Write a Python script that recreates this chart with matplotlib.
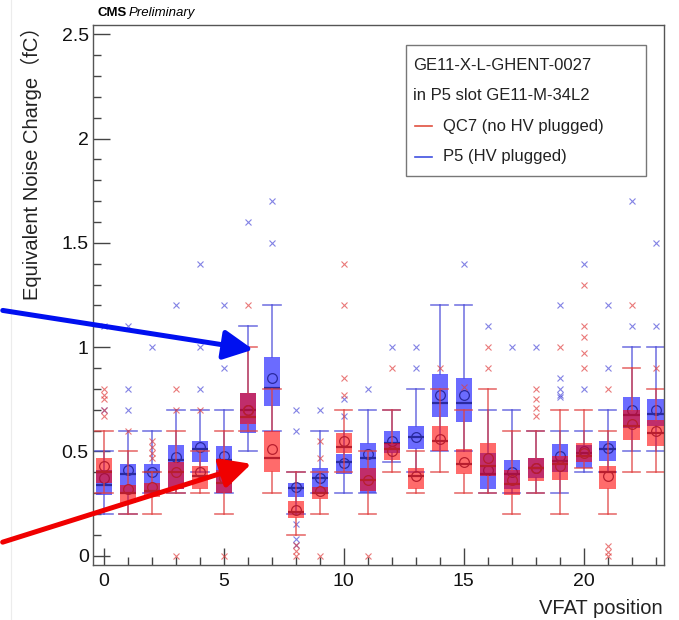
import matplotlib
matplotlib.use("Agg")
import matplotlib.pyplot as plt
from matplotlib.patches import Rectangle, FancyArrowPatch
from matplotlib.lines import Line2D
from matplotlib.ticker import MultipleLocator

W, H = 679, 620

# VFAT positions
vfat = list(range(24))

# QC7 (no HV plugged) - red
qc7_lo   = [0.30, 0.20, 0.20, 0.30, 0.30, 0.20, 0.60, 0.30, 0.10, 0.20, 0.40, 0.20,
            0.40, 0.30, 0.40, 0.30, 0.30, 0.20, 0.30, 0.20, 0.42, 0.20, 0.40, 0.40]
qc7_q1   = [0.35, 0.25, 0.28, 0.32, 0.32, 0.30, 0.63, 0.40, 0.18, 0.27, 0.49, 0.31,
            0.46, 0.32, 0.50, 0.39, 0.38, 0.29, 0.36, 0.365, 0.45, 0.32, 0.556, 0.525]
qc7_med  = [0.40, 0.30, 0.31, 0.40, 0.38, 0.35, 0.665, 0.47, 0.21, 0.30, 0.52, 0.365,
            0.51, 0.38, 0.55, 0.44, 0.43, 0.345, 0.42, 0.44, 0.48, 0.40, 0.62, 0.59]
qc7_q3   = [0.47, 0.34, 0.35, 0.45, 0.43, 0.41, 0.78, 0.60, 0.26, 0.33, 0.59, 0.42,
            0.54, 0.42, 0.62, 0.51, 0.54, 0.41, 0.47, 0.48, 0.54, 0.43, 0.70, 0.65]
qc7_hi   = [0.60, 0.50, 0.40, 0.60, 0.50, 0.60, 1.00, 0.80, 0.40, 0.40, 0.70, 0.50,
            0.70, 0.50, 0.80, 0.70, 0.80, 0.60, 0.60, 0.70, 0.70, 0.60, 0.90, 0.80]
qc7_mean = [0.43, 0.32, 0.33, 0.40, 0.40, 0.37, 0.70, 0.51, 0.22, 0.31, 0.55, 0.365,
            0.50, 0.38, 0.56, 0.45, 0.47, 0.365, 0.42, 0.43, 0.49, 0.38, 0.63, 0.60]
qc7_out  = [[0.8, 0.77, 0.75, 0.7, 0.67], [0.6], [0.55, 0.52, 0.49, 0.47], [0.8, 0.7, 0.0],
            [0.7], [0.0], [1.2], [], [0.05, 0.02, 0.0], [0.55, 0.47, 0.0],
            [1.4, 1.2, 0.85, 0.77], [0.0], [0.9], [], [0.9], [0.81], [1.0, 0.9], [],
            [0.8, 0.75, 0.71, 0.67], [1.0], [1.3, 1.1, 1.05, 0.97, 0.9],
            [0.8, 0.045, 0.015, 0.0], [1.2], [0.9]]

# P5 (HV plugged) - blue
p5_lo   = [0.20, 0.20, 0.30, 0.30, 0.40, 0.30, 0.50, 0.60, 0.20, 0.30, 0.30, 0.30,
           0.45, 0.40, 0.50, 0.50, 0.30, 0.30, 0.30, 0.30, 0.40, 0.40, 0.50, 0.50]
p5_q1   = [0.29, 0.30, 0.30, 0.32, 0.45, 0.30, 0.59, 0.72, 0.28, 0.30, 0.39, 0.30,
           0.49, 0.51, 0.665, 0.64, 0.32, 0.32, 0.37, 0.40, 0.42, 0.456, 0.61, 0.62]
p5_med  = [0.34, 0.39, 0.40, 0.46, 0.51, 0.46, 0.70, 0.805, 0.325, 0.37, 0.45, 0.47,
           0.54, 0.57, 0.73, 0.73, 0.39, 0.39, 0.42, 0.455, 0.49, 0.51, 0.675, 0.68]
p5_q3   = [0.41, 0.44, 0.44, 0.53, 0.55, 0.525, 0.78, 0.955, 0.35, 0.42, 0.485, 0.54,
           0.60, 0.62, 0.87, 0.85, 0.49, 0.46, 0.47, 0.535, 0.53, 0.55, 0.76, 0.753]
p5_hi   = [0.50, 0.60, 0.60, 0.70, 0.70, 0.70, 1.10, 1.20, 0.40, 0.60, 0.60, 0.70,
           0.70, 0.80, 1.20, 1.20, 0.70, 0.70, 0.60, 0.60, 0.60, 0.70, 1.00, 1.00]
p5_mean = [0.37, 0.41, 0.40, 0.475, 0.52, 0.48, 0.70, 0.85, 0.33, 0.37, 0.445, 0.485,
           0.55, 0.57, 0.77, 0.77, 0.41, 0.40, 0.42, 0.48, 0.50, 0.517, 0.70, 0.70]
p5_out  = [[1.1, 0.7], [1.1, 0.8, 0.7], [1.0], [1.2], [1.4, 1.0, 0.8], [1.2, 0.9], [1.6],
           [1.7, 1.5], [0.7, 0.6, 0.15, 0.08, 0.05], [0.7], [0.75, 0.67], [0.8], [1.0],
           [1.0, 0.9], [], [1.4], [1.1], [1.0], [1.0], [1.2, 0.85, 0.8, 0.77, 0.76],
           [1.4, 0.8], [1.2, 0.9], [1.7, 1.1], [1.5, 1.1]]


def make_stats(lo, q1, med, q3, hi, mean, out):
    return [dict(whislo=a, q1=b, med=c, q3=d, whishi=e, mean=f, fliers=g)
            for a, b, c, d, e, f, g in zip(lo, q1, med, q3, hi, mean, out)]


def draw(ax, stats, fill, dark, line, z):
    ax.bxp(stats, positions=vfat, widths=0.68, capwidths=0.72, patch_artist=True,
           showmeans=True, showfliers=True, manage_ticks=False, zorder=z,
           boxprops=dict(facecolor=fill, edgecolor="none"),
           medianprops=dict(color=dark, linewidth=1.6),
           whiskerprops=dict(color=line, linewidth=1.2),
           capprops=dict(color=line, linewidth=1.2),
           meanprops=dict(marker="o", markerfacecolor="none", markeredgecolor=dark,
                          markersize=7, markeredgewidth=0.9),
           flierprops=dict(marker="x", markeredgecolor=line, markersize=4.5,
                           markeredgewidth=0.8, alpha=0.7))


fig = plt.figure(figsize=(W / 100, H / 100), dpi=100)
ax = fig.add_axes([93 / W, 1 - 565 / H, (664 - 93) / W, 540 / H])

draw(ax, make_stats(p5_lo, p5_q1, p5_med, p5_q3, p5_hi, p5_mean, p5_out),
     (0.0, 0.0, 1.0, 0.58), "#2a2aa0", (0.3, 0.3, 0.85, 0.75), 2)
draw(ax, make_stats(qc7_lo, qc7_q1, qc7_med, qc7_q3, qc7_hi, qc7_mean, qc7_out),
     (1.0, 0.0, 0.0, 0.58), "#b81e2e", (0.88, 0.25, 0.25, 0.75), 3)

ax.set_xlim(-0.46, 23.35)
ax.set_ylim(-0.045, 2.545)
ax.xaxis.set_major_locator(MultipleLocator(5))
ax.xaxis.set_minor_locator(MultipleLocator(1))
ax.yaxis.set_major_locator(MultipleLocator(0.5))
ax.yaxis.set_minor_locator(MultipleLocator(0.1))
ax.set_yticks([0, 0.5, 1, 1.5, 2, 2.5], ["0", "0.5", "1", "1.5", "2", "2.5"])
ax.tick_params(which="both", direction="in", color="#444444", width=1,
               labelsize=14, labelcolor="#111111")
ax.tick_params(which="major", length=12)
ax.tick_params(which="minor", length=6)
ax.tick_params(axis="x", pad=6)
ax.tick_params(axis="y", pad=3)
for s in ax.spines.values():
    s.set_color("#555555")
    s.set_linewidth(1)

font = ["Liberation Sans", "Noto Sans CJK SC", "DejaVu Sans"]
for lab in ax.get_xticklabels() + ax.get_yticklabels():
    lab.set_family(font)

ax.set_ylabel("Equivalent Noise Charge（fC）", family=font, fontsize=14.5,
              color="#222222", loc="top")
ax.yaxis.set_label_coords(-51 / 571, 1.0 + 9 / 540)
fig.text(663 / W, 1 - 608 / H, "VFAT position", family=font, fontsize=14.5,
         color="#222222", ha="right", va="center")

# CMS Preliminary
fig.text(97 / W, 1 - 13 / H, "CMS", family=font, fontsize=9.5, weight="bold",
         va="center")
fig.text(129 / W, 1 - 13 / H, "Preliminary", family=font, fontsize=9.5,
         style="italic", va="center")

# legend box
fig.add_artist(Rectangle((406 / W, 1 - 176 / H), 240 / W, 131 / H,
                         transform=fig.transFigure, facecolor="white",
                         edgecolor="#777777", linewidth=1, zorder=5))
fig.text(413 / W, 1 - 65 / H, "GE11-X-L-GHENT-0027", family=font, fontsize=12,
         va="center", color="#222222", zorder=6)
fig.text(413 / W, 1 - 95 / H, "in P5 slot GE11-M-34L2", family=font, fontsize=12,
         va="center", color="#222222", zorder=6)
fig.add_artist(Line2D([415 / W, 432 / W], [1 - 126 / H] * 2, transform=fig.transFigure,
                      color="#e05040", linewidth=1.2, zorder=6))
fig.text(443 / W, 1 - 126 / H, "QC7 (no HV plugged)", family=font, fontsize=12,
         va="center", color="#222222", zorder=6)
fig.add_artist(Line2D([415 / W, 432 / W], [1 - 157 / H] * 2, transform=fig.transFigure,
                      color="#4050e0", linewidth=1.2, zorder=6))
fig.text(443 / W, 1 - 157 / H, "P5 (HV plugged)", family=font, fontsize=12,
         va="center", color="#222222", zorder=6)

# annotation arrows
for (x0, y0), (x1, y1), c in [((0, 310), (256, 350), "#0010f0"),
                              ((0, 543), (254, 463), "#f00000")]:
    fig.add_artist(FancyArrowPatch((x0 / W, 1 - y0 / H), (x1 / W, 1 - y1 / H),
                                   transform=fig.transFigure, color=c,
                                   arrowstyle="-|>,head_length=1.0,head_width=0.5",
                                   mutation_scale=18, linewidth=3.6, zorder=10))

# faint screenshot edge
fig.add_artist(Line2D([10.5 / W] * 2, [0, 1], transform=fig.transFigure,
                      color="#ececec", linewidth=0.8))

fig.savefig("out.png", dpi=100)
